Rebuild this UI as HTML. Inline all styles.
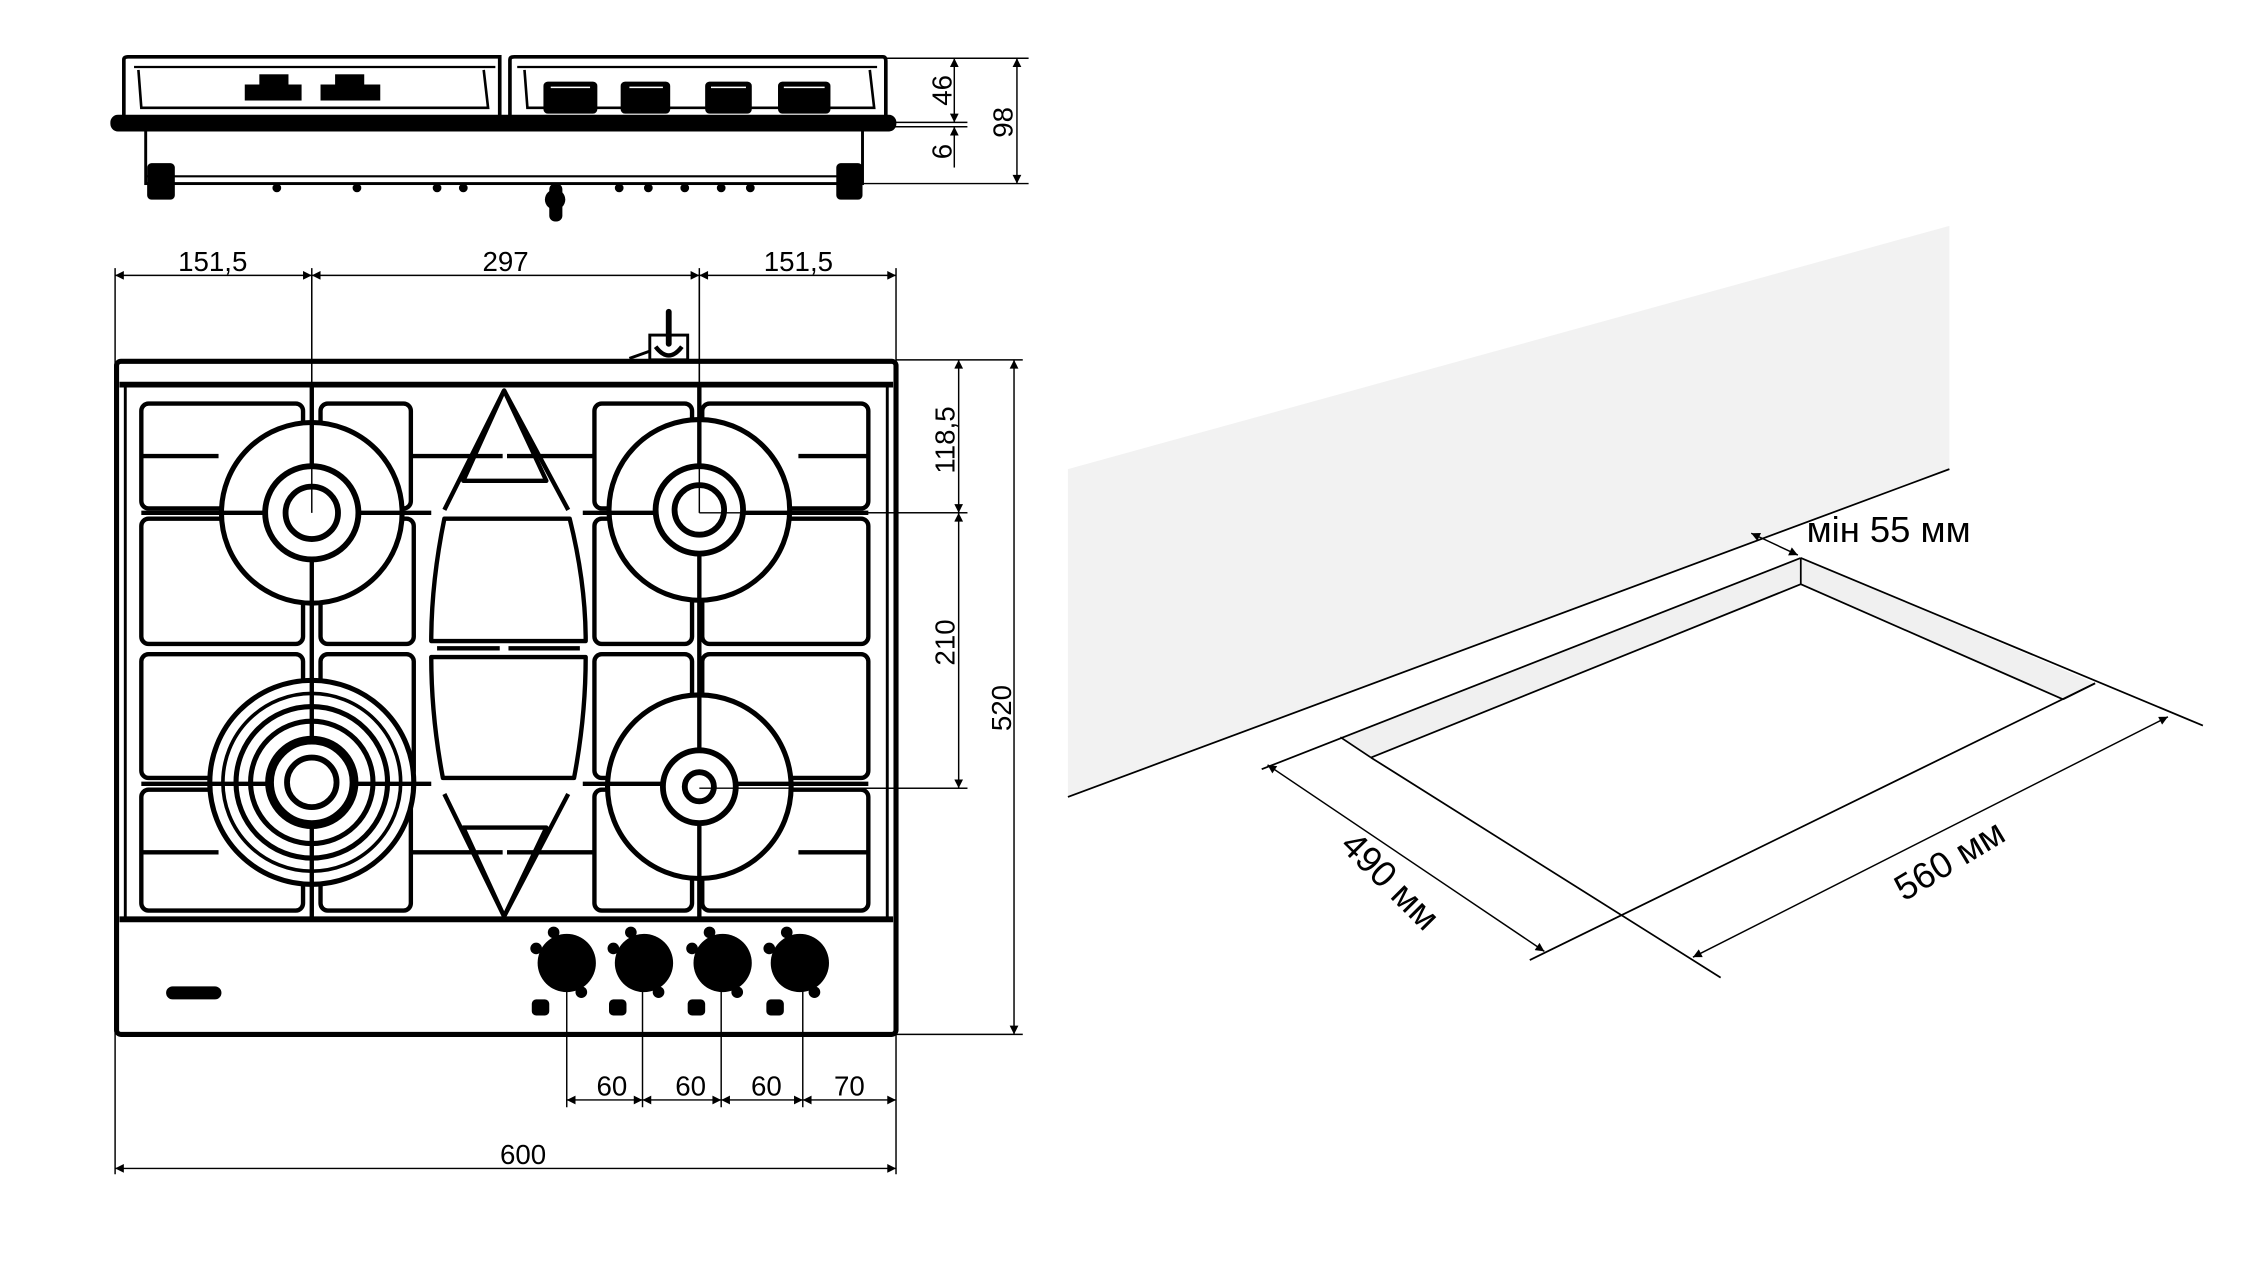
<!DOCTYPE html>
<html><head><meta charset="utf-8"><style>
html,body{margin:0;padding:0;background:#fff;}
svg{display:block;}
text{font-family:"Liberation Sans",sans-serif;fill:#000;}
</style></head><body>
<svg width="2267" height="1286" viewBox="0 0 1556 882.7" preserveAspectRatio="none" xmlns="http://www.w3.org/2000/svg">
<defs>
<marker id="a" viewBox="0 0 10 10" refX="10" refY="5" markerWidth="12" markerHeight="6" markerUnits="userSpaceOnUse" orient="auto-start-reverse"><path d="M0,0L10,5L0,10z" fill="#000"/></marker>
<marker id="b" viewBox="0 0 10 10" refX="10" refY="5" markerWidth="8" markerHeight="6" markerUnits="userSpaceOnUse" orient="auto-start-reverse"><path d="M0,0L10,5L0,10z" fill="#000"/></marker>
</defs>
<rect width="1556" height="883" fill="#fff"/>

<!-- ===== SIDE VIEW ===== -->
<g stroke="#000" fill="none" stroke-width="2.5">
<path d="M85,80 L85,41 Q85,39 88,39 L343,39 L343,80"/>
<path d="M350,80 L350,41 Q350,39 353,39 L606,39 Q608,39 608,42 L608,80"/>
<line x1="92" y1="46" x2="340" y2="46" stroke-width="1.5"/>
<line x1="355" y1="46" x2="602" y2="46" stroke-width="1.5"/>
<path d="M95,48 L97,74 L335,74 L332,48" stroke-width="1.8"/>
<path d="M360,48 L362,74 L600,74 L597,48" stroke-width="1.8"/>
<rect x="77" y="80" width="537" height="9" rx="4" fill="#000"/>
<rect x="100" y="89" width="492" height="37" stroke-width="2"/>
<line x1="100" y1="121" x2="592" y2="121" stroke-width="1.5"/>
</g>
<g fill="#000">
<rect x="168" y="58" width="39" height="11"/><rect x="178" y="51" width="20" height="8"/>
<rect x="220" y="58" width="41" height="11"/><rect x="230" y="51" width="20" height="8"/>
<rect x="373" y="56" width="37" height="22" rx="3"/>
<rect x="426" y="56" width="34" height="22" rx="3"/>
<rect x="484" y="56" width="32" height="22" rx="3"/>
<rect x="534" y="56" width="36" height="22" rx="3"/>
<rect x="101" y="112" width="19" height="25" rx="3"/>
<rect x="574" y="112" width="18" height="25" rx="3"/>
<rect x="377" y="126" width="9" height="26" rx="4"/>
<circle cx="381" cy="137" r="7"/>
<circle cx="190" cy="129" r="3"/><circle cx="245" cy="129" r="3"/><circle cx="300" cy="129" r="3"/><circle cx="318" cy="129" r="3"/>
<circle cx="425" cy="129" r="3"/><circle cx="445" cy="129" r="3"/><circle cx="470" cy="129" r="3"/><circle cx="495" cy="129" r="3"/><circle cx="515" cy="129" r="3"/>
</g>
<g stroke="#fff" stroke-width="1">
<line x1="378" y1="60" x2="405" y2="60"/><line x1="432" y1="60" x2="455" y2="60"/><line x1="488" y1="60" x2="512" y2="60"/><line x1="538" y1="60" x2="566" y2="60"/>
</g>
<!-- side dims -->
<g stroke="#000" stroke-width="1" fill="none">
<line x1="608" y1="40" x2="706" y2="40"/>
<line x1="614" y1="84" x2="664" y2="84"/>
<line x1="614" y1="87" x2="664" y2="87"/>
<line x1="592" y1="126" x2="706" y2="126"/>
<line x1="655" y1="40" x2="655" y2="84" marker-start="url(#a)" marker-end="url(#a)"/>
<line x1="655" y1="87" x2="655" y2="115" marker-start="url(#a)"/>
<line x1="698" y1="40" x2="698" y2="126" marker-start="url(#a)" marker-end="url(#a)"/>
</g>
<text transform="translate(653,62) rotate(-90)" font-size="19" text-anchor="middle">46</text>
<text transform="translate(653,104) rotate(-90)" font-size="19" text-anchor="middle">6</text>
<text transform="translate(695,84) rotate(-90)" font-size="19" text-anchor="middle">98</text>

<!-- ===== TOP VIEW ===== -->
<g stroke="#000" stroke-width="1" fill="none">
<line x1="79" y1="184" x2="79" y2="806"/>
<line x1="615" y1="184" x2="615" y2="806"/>
<line x1="214" y1="184" x2="214" y2="352"/>
<line x1="480" y1="184" x2="480" y2="352"/>
<line x1="79" y1="189" x2="214" y2="189" marker-start="url(#a)" marker-end="url(#a)"/>
<line x1="214" y1="189" x2="480" y2="189" marker-start="url(#a)" marker-end="url(#a)"/>
<line x1="480" y1="189" x2="615" y2="189" marker-start="url(#a)" marker-end="url(#a)"/>
<line x1="615" y1="247" x2="702" y2="247"/>
<line x1="480" y1="352" x2="664" y2="352"/>
<line x1="480" y1="541" x2="664" y2="541"/>
<line x1="615" y1="710" x2="702" y2="710"/>
<line x1="658" y1="247" x2="658" y2="352" marker-start="url(#a)" marker-end="url(#a)"/>
<line x1="658" y1="352" x2="658" y2="541" marker-start="url(#a)" marker-end="url(#a)"/>
<line x1="696" y1="247" x2="696" y2="710" marker-start="url(#a)" marker-end="url(#a)"/>
<line x1="389" y1="662" x2="389" y2="760"/>
<line x1="441" y1="662" x2="441" y2="760"/>
<line x1="495" y1="662" x2="495" y2="760"/>
<line x1="551" y1="662" x2="551" y2="760"/>
<line x1="389" y1="755" x2="441" y2="755" marker-start="url(#a)" marker-end="url(#a)"/>
<line x1="441" y1="755" x2="495" y2="755" marker-start="url(#a)" marker-end="url(#a)"/>
<line x1="495" y1="755" x2="551" y2="755" marker-start="url(#a)" marker-end="url(#a)"/>
<line x1="551" y1="755" x2="615" y2="755" marker-start="url(#a)" marker-end="url(#a)"/>
<line x1="79" y1="802" x2="615" y2="802" marker-start="url(#a)" marker-end="url(#a)"/>
</g>
<g font-size="19" text-anchor="middle">
<text x="146" y="186">151,5</text>
<text x="347" y="186">297</text>
<text x="548" y="186">151,5</text>
<text x="420" y="752">60</text>
<text x="474" y="752">60</text>
<text x="526" y="752">60</text>
<text x="583" y="752">70</text>
<text x="359" y="799">600</text>
<text transform="translate(655,302) rotate(-90)">118,5</text>
<text transform="translate(655,441) rotate(-90)">210</text>
<text transform="translate(694,486) rotate(-90)">520</text>
</g>

<!-- gas connector -->
<g stroke="#000" fill="none" stroke-width="2">
<rect x="446" y="230" width="26" height="17"/>
<path d="M459,214 L459,236" stroke-width="4" stroke-linecap="round"/>
<path d="M450,238 Q459,250 468,238" stroke-width="3"/>
<path d="M432,246 L446,241"/>
</g>

<!-- hob body -->
<g stroke="#000" fill="none">
<rect x="80" y="248" width="535" height="462" rx="3" stroke-width="3.5"/>
<line x1="82" y1="264" x2="613" y2="264" stroke-width="4"/>
<line x1="82" y1="631" x2="613" y2="631" stroke-width="4"/>
<line x1="86" y1="264" x2="86" y2="631" stroke-width="2"/>
<line x1="609" y1="264" x2="609" y2="631" stroke-width="2"/>
</g>
<!-- grate cells -->
<g stroke="#000" fill="none" stroke-width="3">
<rect x="97" y="277" width="111" height="72" rx="5"/>
<rect x="482" y="277" width="114" height="72" rx="5"/>
<rect x="220" y="277" width="62" height="72" rx="5"/>
<rect x="408" y="277" width="67" height="72" rx="5"/>
<rect x="97" y="356" width="111" height="86" rx="5"/>
<rect x="220" y="356" width="64" height="86" rx="5"/>
<rect x="408" y="356" width="67" height="86" rx="5"/>
<rect x="482" y="356" width="114" height="86" rx="5"/>
<path d="M305,356 Q296,400 296,440 L402,440 Q402,400 391,356 Z" stroke-linejoin="round"/>
<rect x="97" y="449" width="111" height="85" rx="5"/>
<rect x="220" y="449" width="64" height="85" rx="5"/>
<rect x="408" y="449" width="67" height="85" rx="5"/>
<rect x="482" y="449" width="114" height="85" rx="5"/>
<path d="M296,451 Q296,492 304,534 L394,534 Q402,492 402,451 Z" stroke-linejoin="round"/>
<rect x="97" y="542" width="111" height="83" rx="5"/>
<rect x="220" y="542" width="62" height="83" rx="5"/>
<rect x="408" y="542" width="67" height="83" rx="5"/>
<rect x="482" y="542" width="114" height="83" rx="5"/>
<path d="M346,268 L318,330 L375,330 Z" stroke-linejoin="round"/>
<path d="M346,268 L305,350 M346,268 L390,350"/>
<path d="M346,629 L318,568 L375,568 Z" stroke-linejoin="round"/>
<path d="M346,629 L305,545 M346,629 L390,545"/>
<line x1="97" y1="313" x2="150" y2="313"/><line x1="548" y1="313" x2="596" y2="313"/>
<line x1="282" y1="313" x2="345" y2="313"/><line x1="348" y1="313" x2="408" y2="313"/>
<line x1="97" y1="585" x2="150" y2="585"/><line x1="548" y1="585" x2="596" y2="585"/>
<line x1="282" y1="585" x2="345" y2="585"/><line x1="348" y1="585" x2="408" y2="585"/>
<line x1="300" y1="445" x2="343" y2="445"/><line x1="349" y1="445" x2="398" y2="445"/>
</g>
<!-- burners -->
<g stroke="#000" fill="#fff" stroke-width="3.5">
<circle cx="214" cy="352" r="62"/>
<circle cx="480" cy="350" r="62"/>
<circle cx="214" cy="537" r="70"/>
<circle cx="480" cy="540" r="63"/>
<circle cx="214" cy="537" r="61" fill="none" stroke-width="2.5"/>
<circle cx="214" cy="537" r="52" fill="none"/>
<circle cx="214" cy="537" r="42" fill="none"/>
</g>
<g stroke="#000" stroke-width="3" fill="none">
<line x1="214" y1="265" x2="214" y2="630"/>
<line x1="480" y1="265" x2="480" y2="630"/>
<line x1="97" y1="352" x2="296" y2="352"/>
<line x1="400" y1="352" x2="596" y2="352"/>
<line x1="97" y1="538" x2="296" y2="538"/>
<line x1="400" y1="538" x2="596" y2="538"/>
</g>
<g stroke="#000" fill="#fff" stroke-width="4">
<circle cx="214" cy="352" r="32"/>
<circle cx="214" cy="352" r="18"/>
<circle cx="480" cy="350" r="30"/>
<circle cx="480" cy="350" r="17"/>
<circle cx="214" cy="537" r="29" stroke-width="6"/>
<circle cx="214" cy="537" r="17"/>
<circle cx="480" cy="540" r="25"/>
<circle cx="480" cy="540" r="10"/>
</g>
<g stroke="#000" stroke-width="1">
<line x1="214" y1="189" x2="214" y2="352"/>
<line x1="480" y1="189" x2="480" y2="352"/>
<line x1="480" y1="352" x2="664" y2="352"/>
<line x1="480" y1="541" x2="664" y2="541"/>
</g>
<!-- control panel -->
<rect x="114" y="677" width="38" height="9" rx="4.5" fill="#000"/>
<g fill="#000">
<circle cx="389" cy="661" r="20"/><circle cx="380" cy="640" r="4"/><circle cx="368" cy="651" r="4"/><circle cx="399" cy="681" r="4"/>
<circle cx="442" cy="661" r="20"/><circle cx="433" cy="640" r="4"/><circle cx="421" cy="651" r="4"/><circle cx="452" cy="681" r="4"/>
<circle cx="496" cy="661" r="20"/><circle cx="487" cy="640" r="4"/><circle cx="475" cy="651" r="4"/><circle cx="506" cy="681" r="4"/>
<circle cx="549" cy="661" r="20"/><circle cx="540" cy="640" r="4"/><circle cx="528" cy="651" r="4"/><circle cx="559" cy="681" r="4"/>
<rect x="365" y="686" width="12" height="11" rx="3"/>
<rect x="418" y="686" width="12" height="11" rx="3"/>
<rect x="472" y="686" width="12" height="11" rx="3"/>
<rect x="526" y="686" width="12" height="11" rx="3"/>
</g>

<!-- ===== INSTALLATION VIEW ===== -->
<polygon points="733,322 1338,155 1338,322 733,547" fill="#f2f2f2"/>
<line x1="733" y1="547" x2="1338" y2="322" stroke="#000" stroke-width="1.2"/>
<polygon points="920,506 1236,383 1236,401 941,520" fill="#f0f0f0"/>
<polygon points="1236,383 1438,469 1416,480 1236,401" fill="#f0f0f0"/>
<g stroke="#000" stroke-width="1.2" fill="none">
<line x1="866" y1="528" x2="1236" y2="383"/>
<line x1="1236" y1="383" x2="1512" y2="498"/>
<line x1="1236" y1="383" x2="1236" y2="401"/>
<line x1="1236" y1="401" x2="941" y2="520"/>
<line x1="1236" y1="401" x2="1416" y2="480"/>
<line x1="920" y1="506" x2="941" y2="520"/>
<line x1="1438" y1="469" x2="1416" y2="480"/>
<line x1="941" y1="520" x2="1181" y2="671"/>
<line x1="1438" y1="469" x2="1050" y2="659"/>
</g>
<g stroke="#000" stroke-width="1" fill="none">
<line x1="1202" y1="366" x2="1234" y2="381" marker-start="url(#b)" marker-end="url(#b)"/>
<line x1="870" y1="525" x2="1060" y2="653" marker-start="url(#b)" marker-end="url(#b)"/>
<line x1="1162" y1="657" x2="1488" y2="492" marker-start="url(#b)" marker-end="url(#b)"/>
</g>
<g font-size="25">
<text x="1240" y="372">мін 55 мм</text>
<text transform="translate(953,606) rotate(45)" text-anchor="middle" dominant-baseline="middle">490 мм</text>
<text transform="translate(1339,592) rotate(-31)" text-anchor="middle" dominant-baseline="middle">560 мм</text>
</g>
</svg>
</body></html>
